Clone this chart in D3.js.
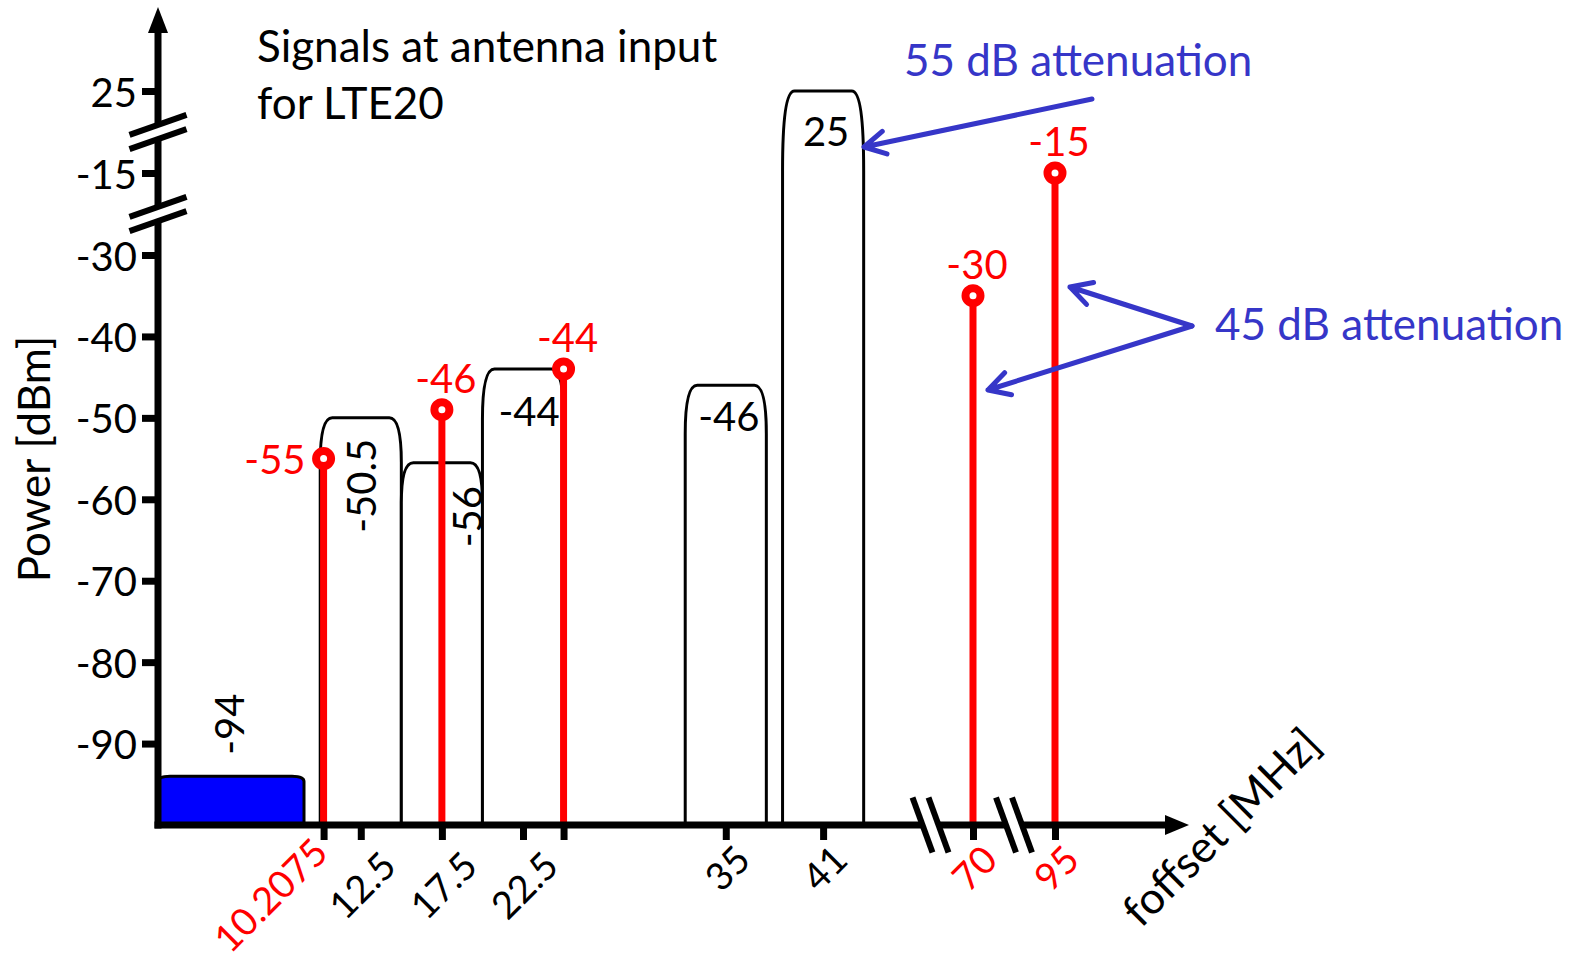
<!DOCTYPE html>
<html>
<head>
<meta charset="utf-8">
<script src="https://cdn.jsdelivr.net/npm/d3@7"></script>
<style>
  body { margin: 0; background: #fff; }
  svg text { font-family: Lato, "Open Sans", sans-serif; }
</style>
</head>
<body>
<div id="container"></div>
<script>
/* DATA */
// y axis ticks (the axis is broken twice: between -30/-15 and -15/25)
const yTickValues = [25, -15, -30, -40, -50, -60, -70, -80, -90];

// x axis ticks, "" = tick without label
const xTickValues = [10.2075, 12.5, 17.5, 22.5, 25, 35, 41, 70, 95];
const xTickLabels = ["10.2075", "12.5", "17.5", "22.5", "", "35", "41", "70", "95"];

// channel blocks: edges in MHz, drawn level in dBm, printed value
const blockStart = [0, 10, 15, 20, 32.5, 38.5];
const blockEnd = [9, 15, 20, 25, 37.5, 43.5];
const blockLevel = [-94, -50, -55.5, -44, -46, 25];
const blockLabels = ["-94", "-50.5", "-56", "-44", "-46", "25"];

// CW tones: offset in MHz, drawn level in dBm, printed value
const toneFreq = [10.2075, 17.5, 25, 70, 95];
const toneLevel = [-55, -49, -44, -35, -15];
const toneLabels = ["-55", "-46", "-44", "-30", "-15"];

/* CONSTANTS */
const width = 1583, height = 961;
const RED = "#ff0000", BLUE = "#3636c8";
const FS = 40;      // numbers
const FS_BIG = 44;  // titles and notes

// broken axes -> piecewise linear scales
const x = d3.scaleLinear().domain([0, 45, 70, 95]).range([158, 888, 973, 1055]);
const y = d3.scaleLinear().domain([-100, -30, -15, 25]).range([825, 255, 173, 91]);
const xBreaks = [57.5, 82.5];
const yBreaks = [-22.5, 5];

const x0 = x(0), yBase = y(-100);

const svg = d3.select("#container")
  .append("svg")
  .attr("width", width)
  .attr("height", height);

// filter shaped block: straight sides, soft rounded top corners
function blockPath(a, b, top, base, closed) {
  const h = base - top;
  const ry = Math.min(h * 0.11, 80), rx = Math.min(12, (b - a) / 4);
  let p = `M${a},${base} L${a},${top + ry} C${a},${top + ry * 0.35} ${a + rx * 0.3},${top} ${a + rx},${top}` +
    ` L${b - rx},${top} C${b - rx * 0.3},${top} ${b},${top + ry * 0.35} ${b},${top + ry} L${b},${base}`;
  return closed ? p + "Z" : p;
}

// BLOCKS
const blocks = blockStart.map((s, i) => ({ s, e: blockEnd[i], level: blockLevel[i], label: blockLabels[i] }));

svg.selectAll("path.block")
  .data(blocks)
  .join("path")
  .attr("class", "block")
  .attr("d", (d, i) => blockPath(x(d.s), x(d.e), y(d.level), yBase, i === 0))
  .attr("fill", (d, i) => i === 0 ? "#0000ff" : "#fff")
  .attr("stroke", "#000")
  .attr("stroke-width", 3);

// block value labels
svg.selectAll("text.blockLabel")
  .data(blocks)
  .join("text")
  .attr("class", "blockLabel")
  .attr("font-size", FS)
  .attr("text-anchor", "middle")
  .attr("dominant-baseline", "central")
  .attr("transform", (d, i) => {
    const cx = x((d.s + d.e) / 2), top = y(d.level);
    if (i === 0) return `translate(${cx - 2},${top - 52}) rotate(-90)`;
    if (i === 1) return `translate(${cx},${top + 68}) rotate(-90)`;
    if (i === 2) return `translate(${x(d.e) - 15},${top + 54}) rotate(-90)`;
    if (i === 3) return `translate(${cx + 6},${top + 42})`;
    if (i === 4) return `translate(${cx + 3},${top + 31})`;
    return `translate(${cx + 3},${top + 40})`;
  })
  .text(d => d.label);

// TONES
const tones = toneFreq.map((f, i) => ({ f, level: toneLevel[i], label: toneLabels[i] }));

svg.selectAll("line.stem")
  .data(tones)
  .join("line")
  .attr("class", "stem")
  .attr("x1", d => x(d.f)).attr("x2", d => x(d.f))
  .attr("y1", d => y(d.level)).attr("y2", yBase)
  .attr("stroke", RED)
  .attr("stroke-width", 7);

svg.selectAll("circle.tone")
  .data(tones)
  .join("circle")
  .attr("class", "tone")
  .attr("cx", d => x(d.f))
  .attr("cy", d => y(d.level))
  .attr("r", 7.5)
  .attr("fill", "#fff")
  .attr("stroke", RED)
  .attr("stroke-width", 8);

svg.selectAll("text.toneLabel")
  .data(tones)
  .join("text")
  .attr("class", "toneLabel")
  .attr("font-size", FS)
  .attr("fill", RED)
  .attr("dominant-baseline", "central")
  .attr("text-anchor", (d, i) => i === 0 ? "end" : "middle")
  .attr("x", (d, i) => i === 0 ? x(d.f) - 18 : x(d.f) + 4)
  .attr("y", (d, i) => i === 0 ? y(d.level) : y(d.level) - 32)
  .text(d => d.label);

// AXES
const yAxis = svg.append("g")
  .attr("transform", `translate(${x0},0)`)
  .call(d3.axisLeft(y).tickValues(yTickValues).tickSize(16).tickPadding(5).tickFormat(d => `${d}`));
yAxis.select(".domain").remove();
yAxis.attr("font-family", null).attr("font-size", FS);
yAxis.selectAll("line").attr("stroke-width", 7);
yAxis.selectAll("text").attr("dy", null).attr("dominant-baseline", "central").attr("fill", "#000");

const blockCenters = blockStart.map((s, i) => (s + blockEnd[i]) / 2);
const xAxis = svg.append("g")
  .attr("transform", `translate(0,${yBase})`)
  .call(d3.axisBottom(x).tickValues(xTickValues).tickSize(15).tickFormat((d, i) => xTickLabels[i]));
xAxis.select(".domain").remove();
xAxis.attr("font-family", null).attr("font-size", 38);
xAxis.selectAll("line").attr("stroke-width", 7);
xAxis.selectAll("text")
  .attr("y", null).attr("dy", null)
  .attr("fill", d => toneFreq.includes(d) && !blockCenters.includes(d) ? RED : "#000")
  .each(function (d) {
    const t = d3.select(this);
    const len = this.getComputedTextLength();
    if (len > 110) {
      t.attr("text-anchor", "end").attr("transform", `translate(6,30) rotate(-45)`);
    } else {
      t.attr("text-anchor", "middle").attr("dominant-baseline", "central")
        .attr("transform", `translate(0,${18 + 0.55 * len}) rotate(-45)`);
    }
  });

// axis lines with arrow heads
svg.append("line")
  .attr("x1", x0).attr("x2", x0)
  .attr("y1", yBase + 3.5).attr("y2", 30)
  .attr("stroke", "#000").attr("stroke-width", 7);
svg.append("path")
  .attr("d", `M${x0},7 L${x0 + 10},33 L${x0 - 10},33Z`)
  .attr("fill", "#000");

svg.append("line")
  .attr("x1", x0 - 3.5).attr("x2", 1168)
  .attr("y1", yBase).attr("y2", yBase)
  .attr("stroke", "#000").attr("stroke-width", 7);
svg.append("path")
  .attr("d", `M1189,${yBase} L1165,${yBase - 10} L1165,${yBase + 10}Z`)
  .attr("fill", "#000");

// break marks
function breakMark(cx, cy, dx, dy, ox, oy) {
  const g = svg.append("g");
  const l1 = [[cx - ox - dx, cy - oy - dy], [cx - ox + dx, cy - oy + dy]];
  const l2 = [[cx + ox - dx, cy + oy - dy], [cx + ox + dx, cy + oy + dy]];
  g.append("path")
    .attr("d", d3.line()([l1[0], l1[1], l2[1], l2[0]]) + "Z")
    .attr("fill", "#fff");
  [l1, l2].forEach(l => g.append("path")
    .attr("d", d3.line()(l))
    .attr("stroke", "#000")
    .attr("stroke-width", 6));
}
yBreaks.forEach(v => breakMark(x0, y(v), 28.5, -10, 0, 7.2));
xBreaks.forEach(v => breakMark(x(v), yBase, -10, -27.5, 8, 0));

// AXIS TITLES
svg.append("text")
  .attr("font-size", FS_BIG)
  .attr("text-anchor", "middle")
  .attr("dominant-baseline", "central")
  .attr("transform", "translate(33,459) rotate(-90)")
  .text("Power [dBm]");

svg.append("text")
  .attr("font-size", FS_BIG)
  .attr("text-anchor", "middle")
  .attr("dominant-baseline", "central")
  .attr("transform", "translate(1220,826) rotate(-45)")
  .text("foffset [MHz]");

// TITLE
svg.append("text")
  .attr("font-size", FS_BIG)
  .attr("x", 257).attr("y", 62)
  .text("Signals at antenna input");
svg.append("text")
  .attr("font-size", FS_BIG)
  .attr("x", 257).attr("y", 119)
  .text("for LTE20");

// ANNOTATIONS
function arrow(from, to) {
  const ang = Math.atan2(to[1] - from[1], to[0] - from[0]);
  const L = 24, spread = 0.5;
  const h1 = [to[0] - L * Math.cos(ang - spread), to[1] - L * Math.sin(ang - spread)];
  const h2 = [to[0] - L * Math.cos(ang + spread), to[1] - L * Math.sin(ang + spread)];
  svg.append("path")
    .attr("d", d3.line()([from, to]) + d3.line()([h1, to, h2]))
    .attr("fill", "none")
    .attr("stroke", BLUE)
    .attr("stroke-width", 5)
    .attr("stroke-linecap", "round")
    .attr("stroke-linejoin", "round");
}

svg.append("text")
  .attr("font-size", FS_BIG)
  .attr("fill", BLUE)
  .attr("x", 904).attr("y", 76)
  .text("55 dB attenuation");
arrow([1092, 99], [864, 147]);

svg.append("text")
  .attr("font-size", FS_BIG)
  .attr("fill", BLUE)
  .attr("x", 1215).attr("y", 340)
  .text("45 dB attenuation");
arrow([1192, 326], [1070, 287]);
arrow([1192, 326], [988, 390]);
</script>
</body>
</html>
